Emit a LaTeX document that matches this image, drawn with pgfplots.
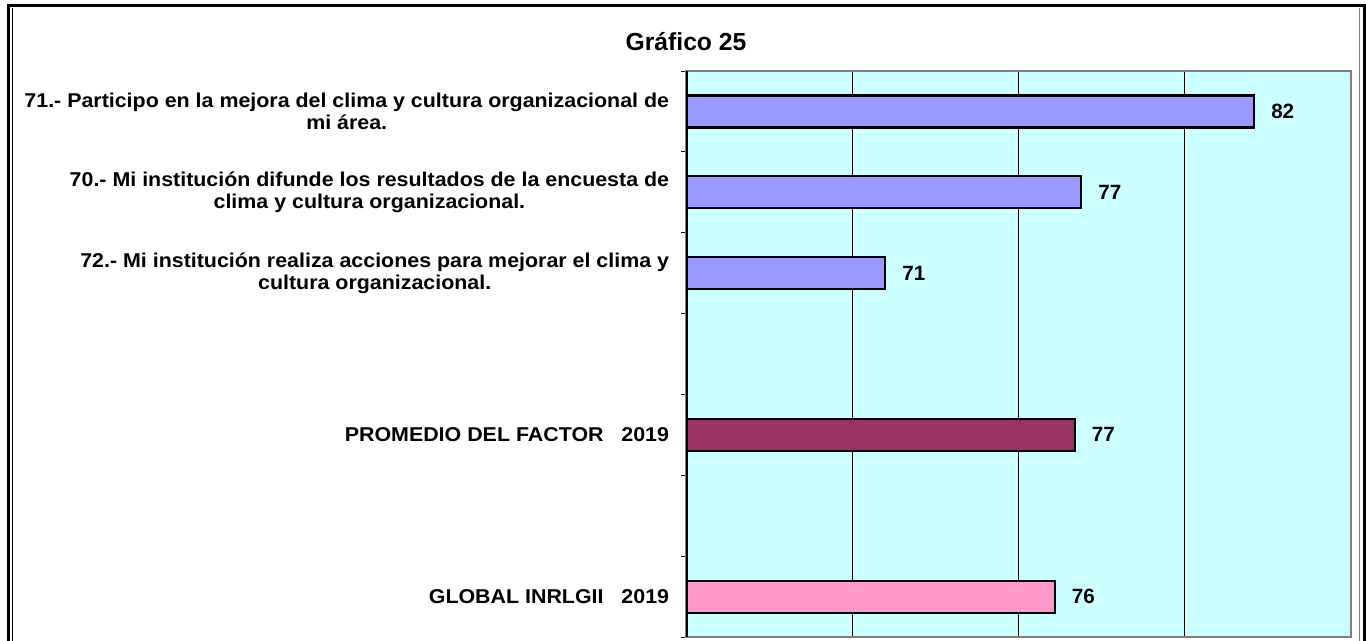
\documentclass[border=0pt]{standalone}
\usepackage{fontspec}
\setmainfont{Liberation Sans}
\newfontfamily\lblfont{Liberation Sans}[FakeStretch=1.07]
\usepackage{pgfplots}
\pgfplotsset{compat=1.18}
\definecolor{bgc}{RGB}{204,255,255}
\definecolor{barA}{RGB}{153,153,255}
\definecolor{barB}{RGB}{153,51,102}
\definecolor{barC}{RGB}{255,153,204}
\begin{document}
\begin{tikzpicture}
\path[use as bounding box] (0,0) rectangle (1024.5pt,480.75pt);
% outer frame
\draw[line width=2.25pt] (6pt,-5pt) -- (6pt,476.25pt) -- (1023.4pt,476.25pt) -- (1023.4pt,-5pt);
\draw[line width=0.75pt] (9pt,-5pt) -- (9pt,475pt);
\draw[gray, line width=0.75pt] (1019.25pt,-5pt) -- (1019.25pt,475pt);
\node[font=\bfseries\fontsize{18.5}{21}\selectfont, anchor=base, inner sep=0pt] at (514.5pt,442.5pt) {Gráfico 25};
\begin{axis}[
  at={(514.5pt,3pt)}, anchor=south west,
  scale only axis, width=498.4pt, height=424.5pt,
  xmin=65, xmax=85, ymin=0.5, ymax=7.5, y dir=reverse,
  axis background/.style={fill=bgc},
  axis line style={draw=gray, line width=1.5pt},
  xtick={70,75,80}, xticklabels={}, xmajorgrids,
  major grid style={black, line width=0.75pt},
  major tick length=0pt,
  ytick={1,2,3,5,7},
  yticklabels={
    {71.- Participo en la mejora del clima y cultura organizacional de\\mi área.},
    {70.- Mi institución difunde los resultados de la encuesta de\\clima y cultura organizacional.},
    {72.- Mi institución realiza acciones para mejorar el clima y\\cultura organizacional.},
    {PROMEDIO DEL FACTOR\ \ \ 2019},
    {GLOBAL INRLGII\ \ \ 2019}},
  yticklabel style={align=center, font=\lblfont\bfseries\fontsize{15}{16}\selectfont, inner sep=0pt, xshift=-12.5pt},
  minor ytick={0.5,1.5,...,7.5},
  minor tick length=3.75pt, tick align=outside, ytick pos=left, xtick pos=left,
  minor tick style={black, line width=0.75pt},
  /pgf/number format/assume math mode=true,
  every node near coord/.append style={anchor=west, inner sep=0pt, xshift=12pt, font=\bfseries\fontsize{15.5}{16}\selectfont, text=black},
  nodes near coords={\pgfmathprintnumber[fixed,precision=0]{\pgfplotspointmeta}},
]
\addplot[xbar, bar width=24pt, bar shift=0pt, fill=barA, draw=black, line width=1.6pt, point meta=x]
  coordinates {(82.1,1) (76.9,2) (71.0,3)};
\addplot[xbar, bar width=24pt, bar shift=0pt, fill=barB, draw=black, line width=1.6pt, point meta=x]
  coordinates {(76.7,5)};
\addplot[xbar, bar width=24pt, bar shift=0pt, fill=barC, draw=black, line width=1.6pt, point meta=x]
  coordinates {(76.1,7)};
\addplot[black, line width=3pt, nodes near coords={}] coordinates {(65,0.5) (65,7.5)};
\end{axis}
\end{tikzpicture}
\end{document}
